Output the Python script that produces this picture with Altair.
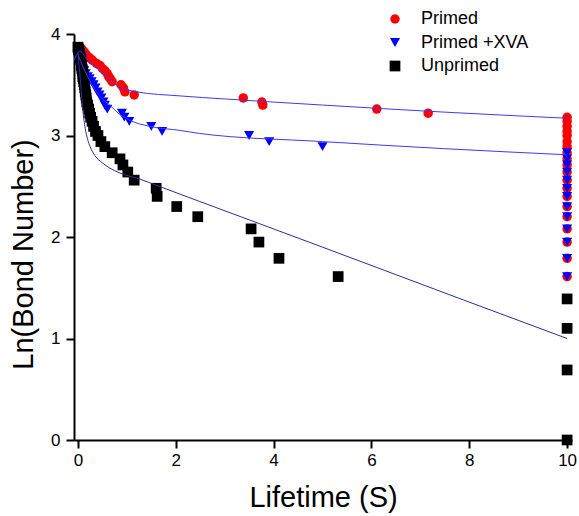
import altair as alt
import pandas as pd

# Ln(Bond Number) levels (48 bonds down to 1)
bond_levels = [3.87, 3.85, 3.83, 3.81, 3.78, 3.76, 3.74, 3.71, 3.69, 3.66,
               3.64, 3.61, 3.58, 3.56, 3.53, 3.50, 3.47, 3.43, 3.40, 3.37,
               3.33, 3.30, 3.26, 3.22, 3.18, 3.14, 3.09, 3.04, 3.00, 2.94,
               2.89, 2.83, 2.77, 2.71, 2.64, 2.56, 2.48, 2.40, 2.30, 2.20,
               2.08, 1.95, 1.79, 1.61, 1.39, 1.10, 0.69, 0.00]

primed_x = [0.05, 0.08, 0.12, 0.15, 0.20, 0.25, 0.30, 0.38, 0.45, 0.50,
            0.55, 0.60, 0.63, 0.66, 0.70, 0.88, 0.93, 0.96, 1.15, 3.38,
            3.76, 3.78, 6.11, 7.16,
            10, 10, 10, 10, 10, 10, 10, 10, 10, 10, 10, 10,
            10, 10, 10, 10, 10, 10, 10, 10, 10, 10, 10, 10]

xva_x = [0.01, 0.02, 0.03, 0.04, 0.05, 0.06, 0.07, 0.07, 0.08, 0.10,
         0.13, 0.16, 0.20, 0.24, 0.28, 0.32, 0.36, 0.40, 0.44, 0.48,
         0.52, 0.55, 0.60, 0.90, 0.95, 1.05, 1.50, 1.72, 3.50, 3.91,
         5.00,
         10, 10, 10, 10, 10, 10, 10, 10, 10, 10, 10, 10, 10, 10, 10, 10, 10]

unprimed_x = [0.00, 0.01, 0.02, 0.03, 0.04, 0.05, 0.06, 0.07, 0.07, 0.08,
              0.09, 0.10, 0.10, 0.11, 0.12, 0.13, 0.14, 0.15, 0.16, 0.17,
              0.18, 0.20, 0.22, 0.24, 0.26, 0.29, 0.32, 0.36, 0.41, 0.47,
              0.55, 0.70, 0.86, 0.92, 1.02, 1.15, 1.60, 1.62, 2.02, 2.45,
              3.54, 3.70, 4.11, 5.32,
              10, 10, 10, 10]

series_names = ["Primed", "Primed +XVA", "Unprimed"]

# fitted curves
fit_primed_x = [-0.08, 0.04, 0.20, 0.35, 0.51, 0.65, 0.85, 1.20, 2.09, 3.00, 5.00, 7.50, 10.0]
fit_primed_y = [3.74, 3.83, 3.74, 3.68, 3.62, 3.55, 3.48, 3.43, 3.39, 3.36, 3.30, 3.23, 3.17]
fit_xva_x = [0.00, 0.10, 0.20, 0.35, 0.50, 0.65, 0.85, 1.06, 1.47, 2.09, 2.49, 5.00, 7.50, 10.0]
fit_xva_y = [3.80, 3.68, 3.58, 3.45, 3.36, 3.30, 3.21, 3.15, 3.09, 3.05, 3.02, 2.94, 2.87, 2.81]
fit_unprimed_x = [0.00, 0.05, 0.10, 0.15, 0.20, 0.25, 0.35, 0.50, 0.65, 0.86, 1.27, 1.60, 2.49, 5.00, 7.88, 10.0]
fit_unprimed_y = [3.82, 3.55, 3.25, 3.07, 2.96, 2.89, 2.80, 2.73, 2.68, 2.63, 2.57, 2.51, 2.35, 1.90, 1.38, 1.00]

rows = []
for k, (name, xs) in enumerate(zip(series_names, [primed_x, xva_x, unprimed_x])):
    for xv, yv in zip(xs, bond_levels):
        rows.append({"x": xv, "y": yv, "series": name, "k": k})
pts = pd.DataFrame(rows)

fit_rows = []
for name, xs, ys in [("Primed", fit_primed_x, fit_primed_y),
                     ("Primed +XVA", fit_xva_x, fit_xva_y)]:
    for xv, yv in zip(xs, ys):
        fit_rows.append({"x": xv, "y": yv, "fit": name})
fits_blue = pd.DataFrame(fit_rows)
fit_black = pd.DataFrame({"x": fit_unprimed_x, "y": fit_unprimed_y})

FONT = "Liberation Sans"
xscale = alt.Scale(domain=[-0.08, 10.1], nice=False, zero=False)
yscale = alt.Scale(domain=[0, 4], nice=False)

common_axis = dict(grid=False, domainColor="black", domainWidth=2, tickColor="black",
                   tickWidth=2, tickSize=8, labelFontSize=17, labelColor="black",
                   titleFontSize=29, titleFontWeight="normal", titleColor="black",
                   labelFont=FONT, titleFont=FONT, format="d")
xaxis = alt.Axis(values=[0, 2, 4, 6, 8, 10], title="Lifetime (S)", labelPadding=4,
                 titlePadding=15, **common_axis)
yaxis = alt.Axis(values=[0, 1, 2, 3, 4], title="Ln(Bond Number)", labelPadding=6,
                 titlePadding=12, titleY=220, **common_axis)

legend_opts = dict(title=None, orient="none", legendX=312, legendY=-24,
                   labelFontSize=18, labelFont=FONT, labelColor="black",
                   symbolSize=100, rowPadding=5.5, labelOffset=17, padding=0,
                   symbolStrokeWidth=0)

points = alt.Chart(pts).mark_point(filled=True, opacity=1).encode(
    x=alt.X("x:Q", scale=xscale, axis=xaxis),
    y=alt.Y("y:Q", scale=yscale, axis=yaxis),
    color=alt.Color("series:N",
                    scale=alt.Scale(domain=series_names, range=["#ff0000", "#0000ff", "#000000"]),
                    legend=alt.Legend(**legend_opts)),
    shape=alt.Shape("series:N",
                    scale=alt.Scale(domain=series_names, range=["circle", "triangle-down", "square"]),
                    legend=alt.Legend(**legend_opts)),
    size=alt.Size("series:N",
                  scale=alt.Scale(domain=series_names, range=[90, 115, 80]),
                  legend=None),
    order=alt.Order("k:Q"),
)

lines_blue = alt.Chart(fits_blue).mark_line(color="#3a3aff", strokeWidth=1,
                                            interpolate="monotone").encode(
    x=alt.X("x:Q", scale=xscale), y=alt.Y("y:Q", scale=yscale), detail="fit:N")
line_black = alt.Chart(fit_black).mark_line(color="#2e2e99", strokeWidth=1,
                                            interpolate="monotone").encode(
    x=alt.X("x:Q", scale=xscale), y=alt.Y("y:Q", scale=yscale))

chart = alt.layer(points, lines_blue, line_black).properties(
    width=498, height=406,
    autosize=alt.AutoSizeParams(type="none"),
    padding={"left": 74, "top": 34, "right": 7, "bottom": 76},
    background="white",
).configure_view(strokeWidth=0)

chart.save("out.html", embed_options={"renderer": "svg", "actions": False})
